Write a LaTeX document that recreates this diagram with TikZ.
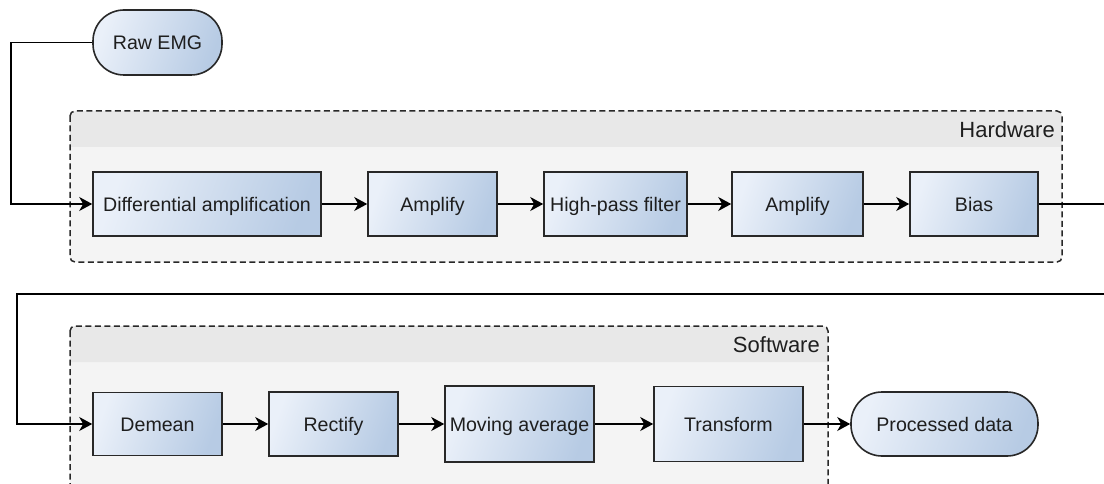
\documentclass[tikz,border=0pt]{standalone}
\usepackage{fontspec}
\setmainfont{Liberation Sans}
\usetikzlibrary{arrows.meta}
\definecolor{boxlight}{RGB}{234,240,249}
\definecolor{boxdark}{RGB}{183,203,228}
\definecolor{linec}{RGB}{40,40,40}
\definecolor{contbody}{RGB}{244,244,244}
\definecolor{conthead}{RGB}{232,232,232}
\definecolor{txt}{RGB}{30,30,30}
\begin{document}
\begin{tikzpicture}[x=1pt,y=-1pt,
  proc/.style={draw=linec, line width=1.6pt, top color=boxlight, bottom color=boxdark,
    shading angle=70, inner sep=0pt, text=txt, font=\fontsize{19.6}{22}\selectfont,
    text height=16pt, text depth=1pt},
  term/.style={proc, rounded corners=31pt},
  arr/.style={-{Stealth[length=13pt,width=14pt,inset=4pt]}, line width=1.3pt, draw=black},
  cont/.style={draw=linec, dash pattern=on 6pt off 3.5pt, line width=1.5pt, rounded corners=5pt},
  contlabel/.style={font=\fontsize{22}{24}\selectfont, text=txt, inner sep=0pt, anchor=east}]
\useasboundingbox (0,0) rectangle (1104,484);
\begin{scope}
\clip (0,0) rectangle (1104,484);
% Hardware container
\fill[contbody, rounded corners=5pt] (70,111) rectangle (1062,262);
\fill[conthead] (70,147) [rounded corners=5pt] -- (70,111) -- (1062,111) [sharp corners] -- (1062,147) -- cycle;
\draw[cont] (70,111) rectangle (1062,262);
\node[contlabel] (hwlabel) at (1055,130) {Hardware};
% Software container
\fill[contbody, rounded corners=5pt] (70,326) rectangle (828,530);
\fill[conthead] (70,362) [rounded corners=5pt] -- (70,326) -- (828,326) [sharp corners] -- (828,362) -- cycle;
\draw[cont] (70,326) rectangle (828,530);
\node[contlabel] (swlabel) at (820,345) {Software};

% nodes
\node[term, minimum width=129pt, minimum height=65pt] (raw) at (157.5,42.5) {Raw EMG};
\node[proc, minimum width=228pt, minimum height=64pt] (diff) at (207,204) {Differential amplification};
\node[proc, minimum width=129pt, minimum height=64pt] (amp1) at (432.5,204) {Amplify};
\node[proc, minimum width=143pt, minimum height=64pt] (hpf) at (615.5,204) {High-pass filter};
\node[proc, minimum width=131pt, minimum height=64pt] (amp2) at (797.5,204) {Amplify};
\node[proc, minimum width=128pt, minimum height=64pt] (bias) at (974,204) {Bias};

\node[proc, minimum width=129pt, minimum height=63pt] (demean) at (157.5,424) {Demean};
\node[proc, minimum width=129pt, minimum height=64pt] (rectify) at (333.5,424) {Rectify};
\node[proc, minimum width=149pt, minimum height=76pt] (movavg) at (519.5,424) {Moving average};
\node[proc, minimum width=149pt, minimum height=75pt] (transform) at (728.5,424) {Transform};
\node[term, minimum width=187pt, minimum height=64pt] (procdata) at (944.5,424) {Processed data};

% connectors
\coordinate (k1) at (11,0);
\coordinate (k2) at (1115,294);
\coordinate (k3) at (17,294);
\draw[arr] (raw.west) -- (raw.west -| k1) |- (diff.west);
\draw[arr] (diff.east) -- (amp1.west);
\draw[arr] (amp1.east) -- (hpf.west);
\draw[arr] (hpf.east) -- (amp2.west);
\draw[arr] (amp2.east) -- (bias.west);
\draw[arr] (bias.east) -| (k2) -- (k3) |- (demean.west);
\draw[arr] (demean.east) -- (rectify.west);
\draw[arr] (rectify.east) -- (movavg.west);
\draw[arr] (movavg.east) -- (transform.west);
\draw[arr] (transform.east) -- (procdata.west);
\end{scope}
\end{tikzpicture}
\end{document}
